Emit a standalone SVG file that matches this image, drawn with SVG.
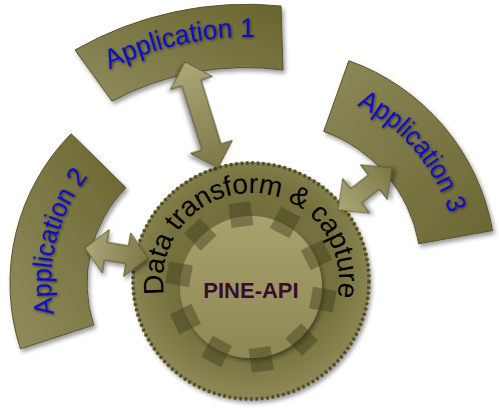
<svg xmlns="http://www.w3.org/2000/svg" xmlns:xlink="http://www.w3.org/1999/xlink" width="499" height="411" viewBox="0 0 499 411">
  <defs>
    <style>
      .band { stroke: #57532a; stroke-width: 1; filter: url(#shadow); }
      .applabel { font-family: "Liberation Sans", Arial, sans-serif; font-size: 27px; fill: #0c0cc8; filter: url(#tshadow); }
      .arrow { stroke: #55512a; stroke-width: 1; fill: url(#gArrow); filter: url(#shadow); }
      .ring { font-family: "Liberation Sans", Arial, sans-serif; font-size: 28px; fill: #000; }
      .core { font-family: "Liberation Sans", Arial, sans-serif; font-size: 22px; font-weight: bold; fill: #3a0b2e; }
      .tooth { fill: #3b3917; fill-opacity: 0.42; }
    </style>
    <filter id="shadow" x="-20%" y="-20%" width="140%" height="140%">
      <feDropShadow dx="2" dy="3" stdDeviation="2" flood-color="#000" flood-opacity="0.4"/>
    </filter>
    <filter id="tshadow" x="-10%" y="-10%" width="120%" height="120%">
      <feGaussianBlur in="SourceAlpha" stdDeviation="1.4" result="b"/>
      <feOffset in="b" dx="1" dy="1" result="o"/>
      <feComponentTransfer in="o" result="s"><feFuncA type="linear" slope="0.6"/></feComponentTransfer>
      <feMerge><feMergeNode in="s"/><feMergeNode in="SourceGraphic"/></feMerge>
    </filter>
    <linearGradient id="gBandA" x1="0" y1="1" x2="1" y2="0">
      <stop offset="0" stop-color="#908c5d"/>
      <stop offset="1" stop-color="#69652f"/>
    </linearGradient>
    <linearGradient id="gBandB" x1="0" y1="0" x2="1" y2="1">
      <stop offset="0" stop-color="#8c8858"/>
      <stop offset="1" stop-color="#6b6733"/>
    </linearGradient>
    <linearGradient id="gArrow" x1="0" y1="0" x2="1" y2="0">
      <stop offset="0" stop-color="#aca778"/>
      <stop offset="1" stop-color="#7c7746"/>
    </linearGradient>
    <radialGradient id="gOuter" cx="50%" cy="45%" r="52%">
      <stop offset="0" stop-color="#6a6636"/>
      <stop offset="0.7" stop-color="#76723f"/>
      <stop offset="1" stop-color="#8b8653"/>
    </radialGradient>
    <linearGradient id="gInner" x1="0" y1="0" x2="0" y2="1">
      <stop offset="0" stop-color="#a7a16d"/>
      <stop offset="1" stop-color="#8d8854"/>
    </linearGradient>
    <rect id="tooth" class="tooth" x="312" y="276" width="24" height="22"/>
    <path id="tp1" d="M79.8,86 A313,313 0 0 1 288.8,39.7" fill="none"/>
    <path id="tp2" d="M57.7,330.4 A173,173 0 0 1 99.3,163.5" fill="none"/>
    <path id="tp3" d="M337.6,97 A183,183 0 0 1 454.6,234.1" fill="none"/>
    <path id="tpRing" d="M174,323.7 A88,88 0 1 1 326.4,326.3" fill="none"/>
  </defs>

  <g id="app1">
    <path class="band" fill="url(#gBandA)" d="M75,50 A345,345 0 0 1 281,6 L283,70 A284,284 0 0 0 112,101 Z"/>
    <text class="applabel"><textPath href="#tp1" startOffset="50%" text-anchor="middle" textLength="150" lengthAdjust="spacingAndGlyphs">Application 1</textPath></text>
  </g>

  <g id="app2">
    <path class="band" fill="url(#gBandA)" d="M20.4,348.8 A213,213 0 0 1 71.1,133.7 L126,187.7 A136,136 0 0 0 93.7,325 Z"/>
    <text class="applabel"><textPath href="#tp2" startOffset="50%" text-anchor="middle" textLength="146" lengthAdjust="spacingAndGlyphs">Application 2</textPath></text>
  </g>

  <g id="app3">
    <path class="band" fill="url(#gBandB)" d="M348.8,60.7 A221,221 0 0 1 492.6,230.6 L418.8,243.7 A146,146 0 0 0 323.7,131.4 Z"/>
    <text class="applabel"><textPath href="#tp3" startOffset="50%" text-anchor="middle" textLength="146" lengthAdjust="spacingAndGlyphs">Application 3</textPath></text>
  </g>

  <g id="core">
    <circle cx="251" cy="281" r="119" fill="url(#gOuter)" filter="url(#shadow)"/>
    <circle cx="251" cy="281" r="118" fill="none" stroke="#4f4c25" stroke-width="3.5" stroke-dasharray="2.6 2.8"/>
    <circle cx="251" cy="287" r="71" fill="url(#gInner)" filter="url(#shadow)"/>
    <g id="gear-teeth">
      <use href="#tooth" transform="rotate(10 251 287)"/>
      <use href="#tooth" transform="rotate(46 251 287)"/>
      <use href="#tooth" transform="rotate(82 251 287)"/>
      <use href="#tooth" transform="rotate(118 251 287)"/>
      <use href="#tooth" transform="rotate(154 251 287)"/>
      <use href="#tooth" transform="rotate(190 251 287)"/>
      <use href="#tooth" transform="rotate(226 251 287)"/>
      <use href="#tooth" transform="rotate(262 251 287)"/>
      <use href="#tooth" transform="rotate(298 251 287)"/>
      <use href="#tooth" transform="rotate(334 251 287)"/>
    </g>
    <text class="ring"><textPath href="#tpRing" startOffset="50%" text-anchor="middle" textLength="306" lengthAdjust="spacing">Data  transform &amp; capture</textPath></text>
    <text class="core" x="251" y="298" text-anchor="middle">PINE-API</text>
  </g>

  <g id="connectors">
    <path id="arrow-app1" class="arrow" transform="translate(185,62) rotate(72.7)" d="M0,0 L22,-22 L22,-10 L89,-10 L89,-22 L111,0 L89,22 L89,10 L22,10 L22,22 Z"/>
    <path id="arrow-app2" class="arrow" transform="translate(85,248) rotate(9)" d="M0,0 L21,-22 L21,-9 L42.8,-9 L42.8,-22 L63.8,0 L42.8,22 L42.8,9 L21,9 L21,22 Z"/>
    <path id="arrow-app3" class="arrow" transform="translate(338,210) rotate(-37.9)" d="M0,0 L23,-22 L23,-9 L45.4,-9 L45.4,-22 L68.4,0 L45.4,22 L45.4,9 L23,9 L23,22 Z"/>
  </g>
</svg>
